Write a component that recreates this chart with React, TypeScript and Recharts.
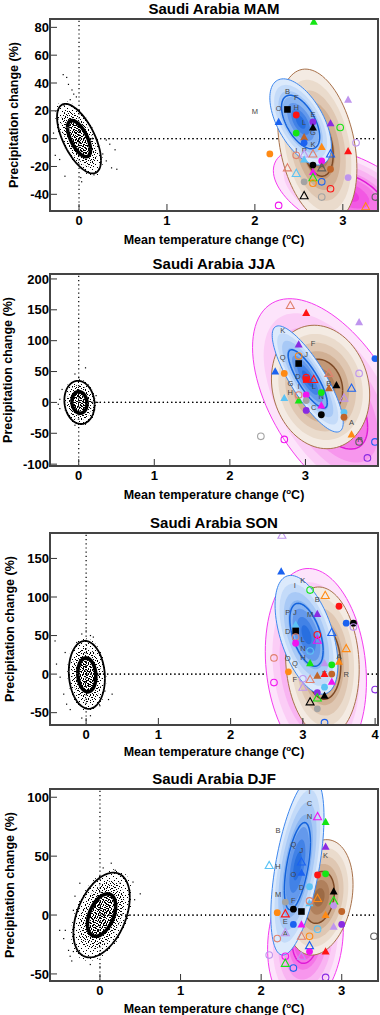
import React from "react";
import { ComposedChart, XAxis, YAxis, Area, Scatter, ReferenceLine } from "recharts";

// ensemble summary: mean dT, mean dP, sd dT, sd dP, correlation, inner contour level
type Ens = [number, number, number, number, number, number];
type Mark = [string, number, number];
type Lab = [string, number, number];
type Pt = [number, number];

const FONT = '"Liberation Sans", Arial, Helvetica, sans-serif';

// ---------------- MAM
const mamTitle = "Saudi Arabia MAM";
const mamXDomain: Pt = [-0.33, 3.4];
const mamYDomain: Pt = [-52, 86];
const mamXTicks = [0, 1, 2, 3];
const mamYTicks = [-40, -20, 0, 20, 40, 60, 80];
const mamEnsembles: Ens[] = [
  [3.05, -40, 0.84, 34, -0.5, 0.5],
  [2.71, -5, 0.45, 55, -0.3, 0.4],
  [2.52, 12, 0.35, 31, -0.56, 0.62],
];
const mamNatural: Ens = [0, 0, 0.25, 25, -0.62, 0.52];
const mamStray: Pt[] = [
  [-0.18, 46], [-0.14, 44], [-0.12, 39], [-0.08, 35], [-0.06, 32], [-0.03, 30],
  [-0.1, 28], [-0.17, 24], [0.31, -1], [0.35, -4], [0.41, -8], [0.43, -22],
  [0.37, -21], [0.31, -16], [0.27, -11], [0.03, -31], [0.02, -28], [-0.16, -27],
  [-0.27, -12], [-0.29, 4], [-0.24, 14], [-0.22, -15], [0.23, -22], [0.17, -26],
];
const mamModels: Mark[] = [
  ["Tg", 2.67, 84], ["Sk", 2.37, 21], ["Fr", 2.47, 17], ["Tb", 2.27, 12],
  ["Fp", 2.66, 12], ["Tp", 2.86, 11], ["Tk", 2.66, 8], ["Og", 2.97, 8],
  ["Fg", 2.47, 4], ["Tn", 2.56, 1], ["Fb", 2.56, -3], ["Tl", 3.06, 28],
  ["Ol", 3.15, -3], ["To", 2.76, -6], ["Tr", 3.06, -9], ["Fo", 2.17, -11],
  ["Os", 2.47, -12], ["Vl", 2.56, -11], ["Vs", 2.66, -11], ["Vb", 2.86, -11],
  ["Tc", 2.56, -15], ["Fm", 2.76, -16], ["Fk", 2.66, -19], ["Vd", 2.76, -21],
  ["Fn", 2.86, -22], ["Vs", 2.37, -21], ["Vc", 2.47, -25], ["Tm", 2.66, -24],
  ["Vg", 2.66, -28], ["Fl", 3.06, -28], ["Fy", 2.56, -31], ["Ob", 2.76, -31],
  ["Oo", 2.66, -32], ["Or", 2.86, -36], ["Vk", 2.56, -41], ["Oy", 2.76, -42],
  ["Om", 2.27, -48], ["Od", 3.37, -42], ["Vo", 3.26, -49],
];
const mamLetters: Lab[] = [
  ["B", 2.37, 34], ["F", 2.47, 30], ["M", 2.0, 20], ["O", 2.27, 22], ["H", 2.47, 23],
  ["E", 2.66, 18], ["L", 2.56, 12], ["G", 2.66, 5], ["K", 2.66, -4], ["I", 2.47, -8],
  ["P", 2.56, -8], ["A", 2.76, -19],
];

// ---------------- JJA
const jjaTitle = "Saudi Arabia JJA";
const jjaXDomain: Pt = [-0.38, 3.96];
const jjaYDomain: Pt = [-103, 208];
const jjaXTicks = [0, 1, 2, 3];
const jjaYTicks = [-100, -50, 0, 50, 100, 150, 200];
const jjaEnsembles: Ens[] = [
  [3.35, 0, 1.05, 168, -0.53, 0.45],
  [3.2, 25, 0.65, 100, -0.13, 0.45],
  [3.03, 38, 0.47, 86, -0.82, 0.55],
];
const jjaNatural: Ens = [0.01, 0, 0.2, 35, -0.1, 0.5];
const jjaStray: Pt[] = [
  [0.09, 56], [-0.05, 46], [0.0, 40], [-0.25, 5], [-0.27, -3], [-0.25, -10],
  [0.23, 11], [0.25, 0], [0.21, -12], [0.06, -35], [-0.05, -37], [-0.22, 21],
];
const jjaModels: Mark[] = [
  ["Vs", 2.8, 157], ["Tr", 3.01, 145], ["Tl", 3.71, 130], ["Tp", 2.91, 94],
  ["Oo", 2.91, 75], ["Sk", 2.91, 63], ["Fb", 3.92, 71], ["Tb", 2.6, 50],
  ["Fo", 2.72, 47], ["Vs", 3.31, 47], ["Ol", 3.71, 47], ["Or", 3.01, 40],
  ["Sr", 3.01, 37], ["Vr", 3.11, 37], ["Tk", 3.41, 28], ["Tn", 3.31, 23],
  ["Vb", 3.61, 23], ["Fg", 3.21, 16], ["Fm", 3.01, 12], ["Tc", 2.72, 7],
  ["Vl", 3.51, 7], ["Fy", 3.01, 3], ["Tg", 2.91, 3], ["Os", 2.91, 12],
  ["Tm", 3.21, -5], ["Fp", 3.01, -13], ["Fk", 3.21, -20], ["Fc", 3.51, -16],
  ["Fn", 3.51, -24], ["To", 3.61, -52], ["Oy", 2.41, -55], ["Om", 2.72, -60],
  ["Od", 3.71, -64], ["Ob", 3.92, -64], ["Op", 3.82, -90],
];
const jjaLetters: Lab[] = [
  ["K", 2.7, 118], ["F", 3.1, 97], ["J", 3.01, 78], ["Q", 2.7, 74], ["D", 2.9, 43],
  ["L", 3.11, 26], ["I", 2.91, 27], ["G", 2.8, 32], ["H", 2.8, 17], ["B", 3.31, 31],
  ["N", 3.21, 11], ["C", 3.11, -7], ["A", 3.61, -32], ["R", 3.72, -59],
];

// ---------------- SON
const sonTitle = "Saudi Arabia SON";
const sonXDomain: Pt = [-0.5, 4.04];
const sonYDomain: Pt = [-66, 183];
const sonXTicks = [0, 1, 2, 3, 4];
const sonYTicks = [-50, 0, 50, 100, 150];
const sonEnsembles: Ens[] = [
  [3.18, 10, 0.7, 127, -0.15, 0.45],
  [3.27, 16, 0.51, 97, -0.1, 0.5],
  [3.05, 51, 0.435, 77, -0.5, 0.53],
];
const sonNatural: Ens = [0.01, -1, 0.25, 44, -0.1, 0.5];
const sonStray: Pt[] = [
  [0, 56], [-0.06, 52], [0.06, 50], [0.1, 48], [-0.13, 41], [-0.29, 28],
  [-0.43, 43], [-0.41, 13], [-0.36, -4], [-0.31, -26], [-0.27, -39], [-0.22, -46],
  [0.26, -22], [0.31, -33], [0.36, -26], [0.19, -41], [-0.06, -57], [0.06, -54],
];
const sonModels: Mark[] = [
  ["Vl", 2.71, 180], ["Tb", 2.7, 133], ["Og", 3.1, 109], ["Vo", 3.31, 102],
  ["Fr", 3.5, 88], ["Tp", 3.2, 78], ["Fb", 3.6, 66], ["Fk", 3.7, 66],
  ["Ol", 3.7, 61], ["Tc", 2.9, 64], ["Sk", 2.9, 56], ["Os", 2.9, 48],
  ["Fm", 2.9, 40], ["Or", 3.2, 51], ["Vm", 3.2, 44], ["Vb", 3.4, 54],
  ["Oc", 3.1, 30], ["Vo", 3.6, 33], ["Os", 2.6, 21], ["To", 3.5, 16],
  ["Tg", 3.1, 14], ["Tl", 3.3, 14], ["Fg", 3.4, 12], ["Fo", 2.8, 3],
  ["Fn", 3.4, 0], ["Tr", 3.3, 0], ["Tn", 3.2, -2], ["Om", 2.6, -11],
  ["Ol", 3.0, -6], ["Vs", 3.1, -7], ["Tm", 3.4, -10], ["Fc", 3.3, -17],
  ["Fp", 3.2, -24], ["Tk", 3.3, -28], ["Vg", 3.2, -31], ["Vk", 3.1, -36],
  ["Fy", 3.2, -45], ["Ob", 3.3, -63], ["Op", 4.0, -20], ["Vl", 3.0, -17],
];
const sonLetters: Lab[] = [
  ["K", 3.0, 122], ["I", 2.89, 115], ["B", 3.2, 97], ["P", 2.79, 81], ["J", 2.89, 81],
  ["M", 3.1, 78], ["D", 2.79, 56], ["L", 3.0, 46], ["N", 3.0, 34], ["H", 3.0, 22],
  ["O", 2.79, 21], ["Q", 2.89, 14], ["A", 3.5, 24], ["R", 3.6, 0], ["E", 3.3, 2],
  ["F", 2.89, -6],
];

// ---------------- DJF
const djfTitle = "Saudi Arabia DJF";
const djfXDomain: Pt = [-0.62, 3.45];
const djfYDomain: Pt = [-56, 107];
const djfXTicks = [0, 1, 2, 3];
const djfYTicks = [-50, 0, 50, 100];
const djfEnsembles: Ens[] = [
  [2.55, -20, 0.47, 60, 0.15, 0.35],
  [2.72, 15, 0.42, 49, 0.22, 0.45],
  [2.45, 41.5, 0.33, 75.5, 0.55, 0.49],
];
const djfNatural: Ens = [0.02, 0, 0.35, 36, 0.42, 0.5];
const djfStray: Pt[] = [
  [0.14, 44], [0.04, 40], [0.19, 38], [0.41, 28], [0.5, 18], [0.43, 13], [0.37, 21],
  [-0.43, -13], [-0.45, -20], [-0.5, -13], [-0.39, -30], [-0.37, -35], [-0.35, -39],
  [-0.33, -31], [-0.12, -42], [0, -44], [-0.31, 16], [-0.33, 4], [0.25, 27], [-0.25, 27],
];
const djfModels: Mark[] = [
  ["Vm", 2.7, 83.5], ["Tg", 2.8, 79], ["Tp", 2.8, 58], ["Vc", 2.1, 42],
  ["Vb", 2.5, 45], ["Tb", 2.5, 36], ["Fr", 2.7, 34], ["Fg", 2.8, 35],
  ["Fc", 2.6, 24], ["Tk", 2.9, 20], ["Vg", 2.9, 12], ["Vo", 2.7, 14],
  ["Tc", 2.6, 10], ["Os", 2.6, 12], ["Fy", 2.3, 11], ["Fl", 2.9, 8],
  ["Fk", 2.4, 5], ["Sk", 2.5, 3], ["Fo", 2.2, 2], ["Vr", 2.3, 1],
  ["Fn", 3.0, 3], ["To", 2.8, 0], ["Fb", 2.4, -8], ["Tm", 2.5, -8],
  ["Fp", 3.0, -8], ["Tl", 2.9, -10], ["Oc", 2.7, -12], ["Vs", 2.5, -18],
  ["Os", 2.2, -20], ["Oo", 2.6, -18], ["Vl", 2.3, -15], ["Vb", 2.6, -26],
  ["Fm", 2.6, -31], ["Tr", 2.8, -31], ["Ol", 2.1, -34], ["Om", 2.3, -35],
  ["Vl", 2.5, -35], ["Vg", 2.3, -41], ["Ob", 2.4, -45], ["Op", 2.8, -53],
  ["Od", 3.4, -18],
];
const djfLetters: Lab[] = [
  ["I", 2.6, 105], ["C", 2.6, 95], ["N", 2.6, 84], ["B", 2.21, 72], ["Q", 2.4, 60],
  ["J", 2.5, 55], ["K", 2.8, 51], ["H", 2.21, 42], ["O", 2.4, 35], ["D", 2.5, 24],
  ["M", 2.21, 18], ["F", 2.4, 13], ["E", 2.3, -5], ["A", 2.3, -15],
];

// ---------------- styles
const COLORS: Record<string, string> = {
  k: "#000000", r: "#ff1414", g: "#14e614", b: "#1a62f0", p: "#8a2be2",
  o: "#ff8a14", n: "#c0652a", m: "#f014f0", l: "#bf95ee", y: "#a3a3a3",
  c: "#5cc3f5", s: "#e0806e", d: "#606060",
};

const ENSEMBLE_STYLE = [
  { bands: ["#fde4fb", "#fbcdf6", "#f9b4f2", "#f796ed", "#f576e7", "#f258e3", "#ee3cde"], edge: "#f53cf0", core: "#e01ad6" },
  { bands: ["#f4ebe3", "#eadbcc", "#dfc7b2", "#d1b094", "#c29877", "#b0805c", "#9c6a45"], edge: "#a8714a", core: "#7e4a26" },
  { bands: ["#dceafc", "#c4dbf9", "#a8c9f6", "#88b4f1", "#6499ec", "#4282e6", "#286fe0"], edge: "#3f88ee", core: "#1463dc" },
];
const BAND_LEVELS = [1, 0.86, 0.72, 0.58, 0.44, 0.3, 0.16];

function range(a: number, b: number, step: number) {
  const out: number[] = [];
  for (let v = Math.ceil(a / step) * step; v <= b + 1e-9; v += step) out.push(Math.round(v * 1000) / 1000);
  return out;
}

// outline of a bivariate-normal contour, as low/high pairs for a range Area
function ellipseRows(e: Ens, s: number) {
  const [mx, my, sx, sy, rho] = e;
  const k = Math.sqrt(1 - rho * rho);
  const rows: { x: number; r: [number, number] }[] = [];
  const n = 48;
  for (let i = 0; i <= n; i++) {
    const t = Math.PI * (1 - i / n);
    const u = Math.cos(t);
    const h = Math.sin(t);
    const mid = my + s * sy * rho * u;
    const half = s * sy * k * h;
    rows.push({ x: mx + s * sx * u, r: [mid - half, mid + half] });
  }
  return rows;
}

function ellipseArea(key: string, rows: any[], fill: string, stroke: string, width: number, dash?: string) {
  return (
    <Area
      key={key}
      data={rows}
      dataKey="r"
      type="linear"
      fill={fill}
      fillOpacity={1}
      stroke={stroke}
      strokeWidth={width}
      strokeDasharray={dash}
      dot={false}
      activeDot={false}
      isAnimationActive={false}
    />
  );
}

function ModelMark(props: any) {
  const { cx, cy, payload } = props;
  if (cx == null || cy == null) return null;
  const kind = payload.code[0];
  const col = COLORS[payload.code[1]];
  if (kind === "F") return <circle cx={cx} cy={cy} r={3.4} fill={col} />;
  if (kind === "O") return <circle cx={cx} cy={cy} r={3.3} fill="none" stroke={col} strokeWidth={1.1} />;
  if (kind === "S") return <rect x={cx - 3.3} y={cy - 3.3} width={6.6} height={6.6} fill={col} />;
  const pts = `${cx},${cy - 4.2} ${cx - 4},${cy + 3} ${cx + 4},${cy + 3}`;
  if (kind === "T") return <polygon points={pts} fill={col} />;
  return <polygon points={pts} fill="none" stroke={col} strokeWidth={1.1} />;
}

function LetterMark(props: any) {
  const { cx, cy, payload } = props;
  if (cx == null || cy == null) return null;
  return (
    <text x={cx} y={cy} dy={3} textAnchor="middle" fontSize={7.5} fontFamily={FONT} fill="#444">
      {payload.label}
    </text>
  );
}

function DotMark(props: any) {
  const { cx, cy } = props;
  if (cx == null || cy == null) return null;
  return <rect x={cx - 0.6} y={cy - 0.6} width={1.2} height={1.2} fill="#000" />;
}

type PanelProps = {
  id: string;
  top: number;
  title: string;
  xDomain: Pt;
  yDomain: Pt;
  xTicks: number[];
  yTicks: number[];
  yMinor: number;
  ensembles: Ens[];
  natural: Ens;
  stray: Pt[];
  models: Mark[];
  letters: Lab[];
  yLabelX: number;
  xLabelTop: number;
};

const H = 250;
const PLOT_TOP = 19;
const PLOT_BOTTOM = 211;
const PLOT_LEFT = 50;
const PLOT_RIGHT = 378;

function Panel(p: PanelProps) {
  const tickFont = { fontSize: 13, fontWeight: 700, fill: "#000", fontFamily: FONT };
  const xMinor = range(p.xDomain[0], p.xDomain[1], 0.1);
  const yMinor = range(p.yDomain[0], p.yDomain[1], p.yMinor);
  const axisStroke = { stroke: "#444", strokeWidth: 2 };
  const tickStroke = { stroke: "#333", strokeWidth: 1 };

  const ensembleLayers: React.ReactNode[] = [];
  p.ensembles.forEach((e, ei) => {
    const st = ENSEMBLE_STYLE[ei];
    BAND_LEVELS.forEach((lv, bi) => {
      ensembleLayers.push(ellipseArea(`${p.id}e${ei}b${bi}`, ellipseRows(e, lv), st.bands[bi], "none", 0));
    });
    ensembleLayers.push(ellipseArea(`${p.id}e${ei}edge`, ellipseRows(e, 1), "none", st.edge, 1));
    ensembleLayers.push(ellipseArea(`${p.id}e${ei}core`, ellipseRows(e, e[5]), "none", st.core, 1.5));
  });

  const modelData = p.models.map(([code, x, y]) => ({ code, x, y }));
  const letterData = p.letters.map(([label, x, y]) => ({ label, x, y }));
  const strayData = p.stray.map(([x, y]) => ({ x, y }));
  // zero-change line drawn as a flat range area so it stays beneath the ensemble shading
  const zeroRows = [{ x: 0, r: [0, 0] }, { x: p.xDomain[1], r: [0, 0] }];

  // each axis takes 1px (an axis of size 0 is not drawn), two axes per side
  const margin = { top: PLOT_TOP - 2, right: 380 - PLOT_RIGHT - 2, bottom: H - PLOT_BOTTOM - 2, left: PLOT_LEFT - 2 };

  return (
    <div style={{ position: "absolute", left: 0, top: p.top, width: 380, height: H }}>
      <div
        style={{
          position: "absolute", left: 50, width: 328, top: 0, textAlign: "center",
          fontFamily: FONT, fontWeight: 700, fontSize: 15, lineHeight: "18px",
        }}
      >
        {p.title}
      </div>
      <ComposedChart width={380} height={H} margin={margin}>
        <defs>
          <pattern id={`sp${p.id}`} width="7" height="7" patternUnits="userSpaceOnUse">
            <rect x="1" y="1" width="1" height="1" fill="#000" />
            <rect x="4" y="3" width="1" height="1" fill="#000" />
            <rect x="2" y="5" width="1" height="1" fill="#000" />
            <rect x="6" y="6" width="1" height="1" fill="#000" />
          </pattern>
          <pattern id={`md${p.id}`} width="6" height="6" patternUnits="userSpaceOnUse">
            <rect x="0" y="0" width="1" height="1" fill="#000" />
            <rect x="3" y="1" width="1" height="1" fill="#000" />
            <rect x="1" y="3" width="1" height="1" fill="#000" />
            <rect x="4" y="4" width="1" height="1" fill="#000" />
            <rect x="5" y="2" width="1" height="1" fill="#000" />
            <rect x="2" y="5" width="1" height="1" fill="#000" />
          </pattern>
          <pattern id={`dn${p.id}`} width="5" height="5" patternUnits="userSpaceOnUse">
            <rect x="0" y="0" width="1" height="1" fill="#000" />
            <rect x="2" y="1" width="1" height="1" fill="#000" />
            <rect x="4" y="2" width="1" height="1" fill="#000" />
            <rect x="1" y="3" width="1" height="1" fill="#000" />
            <rect x="3" y="4" width="1" height="1" fill="#000" />
            <rect x="3" y="0" width="1" height="1" fill="#000" />
            <rect x="0" y="2" width="1" height="1" fill="#000" />
          </pattern>
        </defs>

        <XAxis
          type="number" dataKey="x" domain={p.xDomain} allowDataOverflow ticks={p.xTicks} height={1}
          tickSize={-7} tickMargin={12} tick={tickFont} axisLine={axisStroke} tickLine={tickStroke}
        />
        <XAxis
          xAxisId="bm" type="number" domain={p.xDomain} allowDataOverflow ticks={xMinor} height={1}
          tickSize={-4.5} tick={false} axisLine={false} tickLine={tickStroke}
        />
        <XAxis
          xAxisId="t" orientation="top" type="number" domain={p.xDomain} allowDataOverflow ticks={p.xTicks}
          height={1} tickSize={-7} tick={false} axisLine={axisStroke} tickLine={tickStroke}
        />
        <XAxis
          xAxisId="tm" orientation="top" type="number" domain={p.xDomain} allowDataOverflow ticks={xMinor}
          height={1} tickSize={-4.5} tick={false} axisLine={false} tickLine={tickStroke}
        />
        <YAxis
          type="number" domain={p.yDomain} allowDataOverflow ticks={p.yTicks} width={1}
          tickSize={-7} tickMargin={8} tick={tickFont} axisLine={axisStroke} tickLine={tickStroke}
        />
        <YAxis
          yAxisId="lm" type="number" domain={p.yDomain} allowDataOverflow ticks={yMinor} width={1}
          tickSize={-4.5} tick={false} axisLine={false} tickLine={tickStroke}
        />
        <YAxis
          yAxisId="r" orientation="right" type="number" domain={p.yDomain} allowDataOverflow ticks={p.yTicks}
          width={1} tickSize={-7} tick={false} axisLine={axisStroke} tickLine={tickStroke}
        />
        <YAxis
          yAxisId="rm" orientation="right" type="number" domain={p.yDomain} allowDataOverflow ticks={yMinor}
          width={1} tickSize={-4.5} tick={false} axisLine={false} tickLine={tickStroke}
        />

        <ReferenceLine x={0} stroke="#000" strokeWidth={1.2} strokeDasharray="1.2 3" />
        {ellipseArea(`${p.id}zero`, zeroRows, "none", "#000", 1.2, "1.2 3")}

        {ensembleLayers}

        {ellipseArea(`${p.id}nsp`, ellipseRows(p.natural, 1.08), `url(#sp${p.id})`, "none", 0)}
        {ellipseArea(`${p.id}nmd`, ellipseRows(p.natural, 0.8), `url(#md${p.id})`, "none", 0)}
        {ellipseArea(`${p.id}ndn`, ellipseRows(p.natural, p.natural[5] * 1.05), `url(#dn${p.id})`, "none", 0)}
        {ellipseArea(`${p.id}nout`, ellipseRows(p.natural, 1), "none", "#000", 1.8)}
        {ellipseArea(`${p.id}nin`, ellipseRows(p.natural, p.natural[5]), "none", "#000", 3.6)}

        <Scatter data={strayData} dataKey="y" shape={DotMark} isAnimationActive={false} />
        <Scatter data={letterData} dataKey="y" shape={LetterMark} isAnimationActive={false} />
        <Scatter data={modelData} dataKey="y" shape={ModelMark} isAnimationActive={false} />
      </ComposedChart>

      {/* plot frame */}
      <div
        style={{
          position: "absolute", left: PLOT_LEFT - 1, top: PLOT_TOP - 1, width: PLOT_RIGHT - PLOT_LEFT + 2,
          height: PLOT_BOTTOM - PLOT_TOP + 2, boxSizing: "border-box", border: "2px solid #444",
          pointerEvents: "none",
        }}
      />

      <div
        style={{
          position: "absolute", left: 50, width: 328, top: p.xLabelTop, textAlign: "center",
          fontFamily: FONT, fontWeight: 700, fontSize: 12.5, lineHeight: "14px", whiteSpace: "nowrap",
        }}
      >
        Mean temperature change (<span style={{ fontSize: 8, verticalAlign: 5 }}>o</span>C)
      </div>
      <div
        style={{
          position: "absolute", left: p.yLabelX, top: (PLOT_TOP + PLOT_BOTTOM) / 2,
          transform: "translate(-50%, -50%) rotate(-90deg)", fontFamily: FONT, fontWeight: 700,
          fontSize: 12.5, lineHeight: "15px", whiteSpace: "nowrap",
        }}
      >
        Precipitation change (%)
      </div>
    </div>
  );
}

export default function App() {
  return (
    <div style={{ position: "absolute", left: 0, top: 0, width: 380, height: 1015, overflow: "hidden", background: "#fff" }}>
      <Panel
        id="mam" top={0} title={mamTitle} xDomain={mamXDomain} yDomain={mamYDomain}
        xTicks={mamXTicks} yTicks={mamYTicks} yMinor={5} ensembles={mamEnsembles}
        natural={mamNatural} stray={mamStray} models={mamModels} letters={mamLetters} yLabelX={14} xLabelTop={230}
      />
      <Panel
        id="jja" top={255} title={jjaTitle} xDomain={jjaXDomain} yDomain={jjaYDomain}
        xTicks={jjaXTicks} yTicks={jjaYTicks} yMinor={10} ensembles={jjaEnsembles}
        natural={jjaNatural} stray={jjaStray} models={jjaModels} letters={jjaLetters} yLabelX={8} xLabelTop={230}
      />
      <Panel
        id="son" top={514} title={sonTitle} xDomain={sonXDomain} yDomain={sonYDomain}
        xTicks={sonXTicks} yTicks={sonYTicks} yMinor={10} ensembles={sonEnsembles}
        natural={sonNatural} stray={sonStray} models={sonModels} letters={sonLetters} yLabelX={10} xLabelTop={228}
      />
      <Panel
        id="djf" top={770} title={djfTitle} xDomain={djfXDomain} yDomain={djfYDomain}
        xTicks={djfXTicks} yTicks={djfYTicks} yMinor={10} ensembles={djfEnsembles}
        natural={djfNatural} stray={djfStray} models={djfModels} letters={djfLetters} yLabelX={10} xLabelTop={229}
      />
    </div>
  );
}
